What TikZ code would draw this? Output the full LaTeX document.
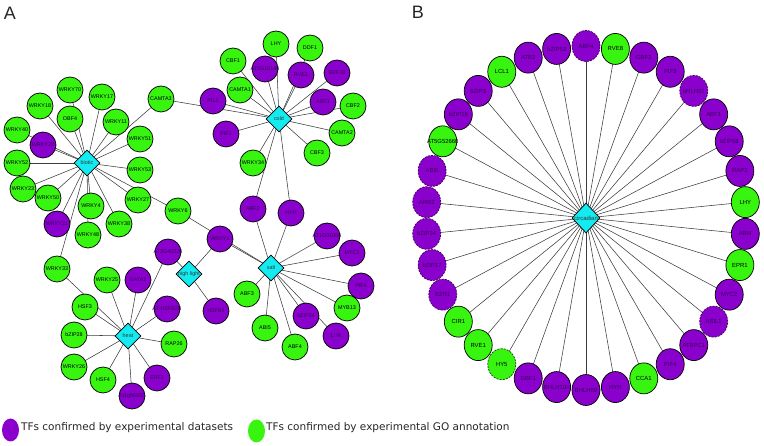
\documentclass[tikz,border=0pt]{standalone}
\usepackage{fontspec}
\setmainfont{Liberation Sans}
\newfontfamily\legfont{DejaVu Sans}
\usetikzlibrary{shapes.geometric,backgrounds}
\definecolor{tfp}{RGB}{138,0,204}
\definecolor{tfg}{RGB}{55,245,15}
\definecolor{tfc}{RGB}{20,235,240}
\definecolor{ptxt}{RGB}{60,0,95}
\definecolor{edgec}{RGB}{60,60,60}
\tikzset{
  lblA/.style={font=\fontsize{5.4}{6}\selectfont, inner sep=0pt},
  lblB/.style={font=\fontsize{5.9}{6.5}\selectfont, inner sep=0pt},
  gA/.style={circle, draw=black, line width=0.7pt, fill=tfg, minimum size=26pt, inner sep=0pt, label={[lblA,text=black]center:#1}},
  pA/.style={circle, draw=black, line width=0.7pt, fill=tfp, minimum size=26pt, inner sep=0pt, label={[lblA,text=ptxt]center:#1}},
  sA/.style={diamond, draw=black, line width=0.7pt, fill=tfc, minimum width=26pt, minimum height=26pt, inner sep=0pt, label={[lblA,text=black!80]center:#1}},
  gB/.style={ellipse, draw=black, line width=0.7pt, fill=tfg, minimum width=28pt, minimum height=31pt, inner sep=0pt, label={[lblB,text=black]center:#1}},
  pB/.style={ellipse, draw=black, line width=0.7pt, fill=tfp, minimum width=28pt, minimum height=31pt, inner sep=0pt, label={[lblB,text=ptxt]center:#1}},
  gBd/.style={gB=#1, draw=black!70!tfg, dash pattern=on 2pt off 1.2pt},
  pBd/.style={pB=#1, draw=black!60!tfp, dash pattern=on 2pt off 1.2pt},
  sB/.style={diamond, draw=black, line width=0.7pt, fill=tfc, minimum width=28pt, minimum height=30pt, inner sep=0pt, label={[lblB,text=black!80]center:#1}},
  edge/.style={draw=edgec, line width=0.55pt},
  leg/.style={ellipse, fill=#1, minimum width=17pt, minimum height=23pt, inner sep=0pt},
  legtxt/.style={font=\legfont\fontsize{10.5}{12}\selectfont, anchor=west, inner sep=0pt, text=black!85},
  panel/.style={font=\fontsize{18}{20}\selectfont, inner sep=0pt, text=black!85},
}
\begin{document}
\begin{tikzpicture}[x=1pt,y=-1pt]
\useasboundingbox (0,0) rectangle (764,446);
% ---------- Panel A ----------
\node[panel] (labA) at (10,13) {A};
\node[panel] (labB) at (418,12) {B};
\node[sA=biotic] (biotic) at (87,163) {};
\node[sA=cold] (cold) at (279,119) {};
\node[sA=heat] (heat) at (128,336) {};
\node[sA=high light] (hl) at (189,274) {};
\node[sA=salt] (salt) at (271,268) {};
\foreach \n/\x/\y in {WRKY70/70/90, WRKY17/102/97, WRKY18/40/106, OBF4/70/119, WRKY11/116/122,
  CAMTA3/161/99, WRKY40/17/130, WRKY51/140/139, WRKY52/17/163, WRKY53/140/170, WRKY23/23/189,
  WRKY50/48/198, WRKY4/91/206, WRKY27/138/200, WRKY6/178/211, WRKY48/88/235, WRKY38/119/224,
  WRKY33/57/269, WRKY25/107/280, HSF3/85/307, bZIP28/74/335, RAP26/174/344, WRKY26/74/367,
  HSF4/103/380, CBF1/233/61, CAMTA1/240/90, LHY/276/44, DDF1/310/48, CBF2/353/106,
  CAMTA2/342/133, CBF3/317/153, WRKY34/253/163, ABF3/247/294, ABI5/265/328, ABF4/295/347,
  MYB13/347/308}
  \node[gA=\n] (\n) at (\x,\y) {};
\foreach \n/\x/\y in {WRKY22/43/145, WRKY21/57/224, AT2G40220/168/252, GATA2/138/280,
  AT-HSFB2B/167/309, ERF2/157/378, At1g56650/132/396, WRKY1/220/239, HSFB4/216/311,
  PIL1/213/101, PIF1/226/134, AT5G10140/265/69, RVE1/301/75, ERF38/337/73, ABF1/323/102,
  ABF2/253/209, HYH/291/213, AT1G01060/327/236, MYC2/352/253, PIF4/361/286, bZIP24/306/316,
  LUX/336/336}
  \node[pA=\n] (\n) at (\x,\y) {};
% ---------- Panel B ----------
\begin{scope}[shift={(586,218)}]
\node[sB=circadian] (circ) at (0,0) {};
\foreach \n/\k in {RVE8/1, LHY/8, EPR1/10, CCA1/15, RVE1/21, CIR1/22, AT5G52660/28, LCL1/31}
  \node[gB=\n] (b-\n) at ({90-\k*360/34}:160pt and 172pt) {};
\foreach \n/\k in {HY5/20}
  \node[gBd=\n] (b-\n) at ({90-\k*360/34}:160pt and 172pt) {};
\foreach \n/\k in {GBF3/2, PIF3/3, ABF1/5, bZIP68/6, RAP2/7, ABI4/9, MYC2/11, ATBPC1/13,
  PIF4/14, HYH/16, BHLH69/17, BHLH104/18, GBF1/19, bZIP16/29, bZIP3/30, ATB2/32, bZIP53/33}
  \node[pB=\n] (b-\n) at ({90-\k*360/34}:160pt and 172pt) {};
\foreach \n/\k in {ABF4/0, bHLH31/4, ASIL1/12, BZR1/23, bZIP17/24, bZIP34/25, ARR2/26, ABI5/27}
  \node[pBd=\n] (b-\n) at ({90-\k*360/34}:160pt and 172pt) {};
\end{scope}
% ---------- edges ----------
\begin{pgfonlayer}{background}
\foreach \t in {WRKY70, WRKY17, WRKY18, OBF4, WRKY11, CAMTA3, WRKY40, WRKY22, WRKY51, WRKY52,
  WRKY53, WRKY23, WRKY50, WRKY4, WRKY27, WRKY6, WRKY21, WRKY48, WRKY38, WRKY33}
  \draw[edge] (biotic.center) -- (\t.center);
\foreach \t in {CBF1, CAMTA1, LHY, DDF1, AT5G10140, RVE1, ERF38, ABF1, CBF2, CAMTA2, CBF3,
  WRKY34, ABF2, HYH, PIL1, PIF1, CAMTA3}
  \draw[edge] (cold.center) -- (\t.center);
\foreach \t in {WRKY33, WRKY25, GATA2, AT2G40220, HSF3, AT-HSFB2B, bZIP28, RAP26, WRKY26,
  HSF4, ERF2, At1g56650}
  \draw[edge] (heat.center) -- (\t.center);
\foreach \t in {WRKY1, AT2G40220, HSFB4}
  \draw[edge] (hl.center) -- (\t.center);
\foreach \t in {ABF2, HYH, AT1G01060, MYC2, PIF4, MYB13, bZIP24, LUX, ABF3, ABI5, ABF4, WRKY6, WRKY1}
  \draw[edge] (salt.center) -- (\t.center);
\foreach \t in {ABF4, RVE8, GBF3, PIF3, bHLH31, ABF1, bZIP68, RAP2, LHY, ABI4, EPR1, MYC2,
  ASIL1, ATBPC1, PIF4, CCA1, HYH, BHLH69, BHLH104, GBF1, HY5, RVE1, CIR1, BZR1, bZIP17,
  bZIP34, ARR2, ABI5, AT5G52660, bZIP16, bZIP3, LCL1, ATB2, bZIP53}
  \draw[edge] (circ.center) -- (b-\t.center);
\end{pgfonlayer}
% ---------- legend ----------
\node[leg=tfp] (legp) at (10.5,430) {};
\node[legtxt] (legpt) at (21,428) {TFs confirmed by experimental datasets};
\node[leg=tfg] (legg) at (256.5,431) {};
\node[legtxt] (leggt) at (266,428) {TFs confirmed by experimental GO annotation};
\end{tikzpicture}
\end{document}
